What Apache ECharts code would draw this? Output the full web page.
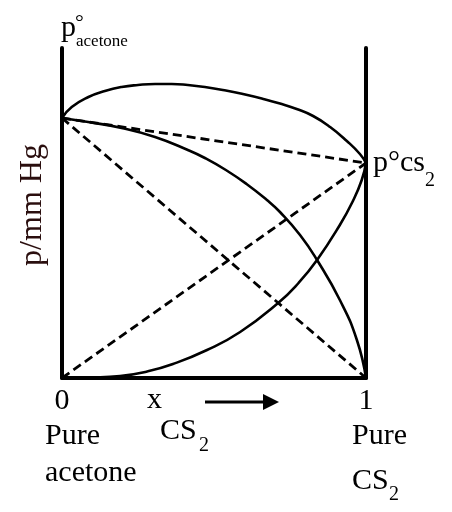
<!DOCTYPE html>
<html>
<head>
<meta charset="utf-8">
<script src="https://cdn.jsdelivr.net/npm/echarts@6/dist/echarts.min.js"></script>
<style>html,body{margin:0;padding:0;background:#fff}#c{width:452px;height:512px}</style>
</head>
<body>
<div id="c"></div>
<script>
// mole fraction of CS2 (x) and pressure (arbitrary units, 0..330)
var totalX = [0, 0.032, 0.087, 0.141, 0.196, 0.25, 0.306, 0.361, 0.414, 0.470, 0.539, 0.595, 0.657, 0.717, 0.772, 0.826, 0.882, 0.937, 0.980, 1];
var totalP = [260, 271, 281, 287, 291, 293, 294, 294, 293, 291, 287.5, 284, 279.5, 274.5, 269, 262, 251, 237, 224, 215];
var acetoneX = [0, 0.086, 0.196, 0.306, 0.414, 0.470, 0.539, 0.607, 0.674, 0.717, 0.783, 0.839, 0.914, 0.970, 1];
var acetoneP = [260, 256, 250, 241, 228, 220, 208, 194, 178, 166, 143, 118, 78, 38, 0];
var cs2X = [0, 0.092, 0.191, 0.280, 0.365, 0.477, 0.586, 0.711, 0.778, 0.839, 0.914, 0.957, 0.986, 1];
var cs2P = [0, 0.5, 2, 6.5, 14, 28, 46, 75, 95, 118, 153, 177, 198, 215];
var pAcetone = 260, pCS2 = 215;
var xTicks = ['0', '1'];

function pairs(xs, ys) { return xs.map(function (x, i) { return [x, ys[i]]; }); }

var FONT = '"Liberation Serif", "Times New Roman", serif';
function T(text, x, baseline, size, extra) {
  var el = {
    type: 'text', x: x, y: baseline - 0.305 * size,
    style: { text: text, font: size + 'px ' + FONT, fill: '#000', align: 'left', verticalAlign: 'middle' }
  };
  if (extra) for (var k in extra) el[k] = extra[k];
  return el;
}

var solid = { color: '#000', width: 2.6 };
var dashed = { color: '#000', width: 2.8, type: [9, 5] };

var chart = echarts.init(document.getElementById('c'));
chart.setOption({
  animation: false,
  backgroundColor: '#fff',
  grid: { left: 62, right: 86, top: 48, bottom: 134 },
  xAxis: {
    type: 'value', min: 0, max: 1, interval: 1,
    axisLine: { show: true, onZero: false, lineStyle: { color: '#000', width: 4 } },
    axisTick: { show: false }, splitLine: { show: false },
    axisLabel: {
      margin: 8, color: '#000', fontSize: 30, fontFamily: FONT,
      formatter: function (v) { return v === 0 ? xTicks[0] : (v === 1 ? xTicks[1] : ''); }
    }
  },
  yAxis: [
    { type: 'value', min: 0, max: 330, position: 'left',
      axisLine: { show: true, lineStyle: { color: '#000', width: 4 } },
      axisTick: { show: false }, axisLabel: { show: false }, splitLine: { show: false } },
    { type: 'value', min: 0, max: 330, position: 'right',
      axisLine: { show: true, lineStyle: { color: '#000', width: 4 } },
      axisTick: { show: false }, axisLabel: { show: false }, splitLine: { show: false } }
  ],
  series: [
    { type: 'line', data: pairs(totalX, totalP), smooth: 0.5, symbol: 'none', lineStyle: solid },
    { type: 'line', data: pairs(acetoneX, acetoneP), smooth: 0.5, symbol: 'none', lineStyle: solid },
    { type: 'line', data: pairs(cs2X, cs2P), smooth: 0.5, symbol: 'none', lineStyle: solid },
    { type: 'line', data: [[0, pAcetone], [1, pCS2]], symbol: 'none', lineStyle: dashed },
    { type: 'line', data: [[0, pAcetone], [1, 0]], symbol: 'none', lineStyle: dashed },
    { type: 'line', data: [[0, 0], [1, pCS2]], symbol: 'none', lineStyle: dashed }
  ],
  graphic: [
    T('p', 61, 37, 30),
    T('°', 75, 30, 22),
    T('acetone', 76, 47, 17),
    T('p°cs', 373, 172, 30),
    T('2', 425, 187, 20),
    { type: 'text', x: 33, y: 205, rotation: Math.PI / 2,
      style: { text: 'p/mm Hg', font: '32px ' + FONT, fill: '#2a0e0e', align: 'center', verticalAlign: 'middle' } },
    T('x', 147, 409, 30),
    { type: 'line', shape: { x1: 205, y1: 402, x2: 266, y2: 402 }, style: { stroke: '#000', lineWidth: 3 } },
    { type: 'polygon', shape: { points: [[263, 394], [279, 402], [263, 410]] }, style: { fill: '#000' } },
    T('CS', 160, 440, 30),
    T('2', 199, 452, 20),
    T('Pure', 45, 445, 30),
    T('acetone', 45, 482, 30),
    T('Pure', 352, 445, 30),
    T('CS', 352, 490, 30),
    T('2', 389, 501, 20)
  ]
});
</script>
</body>
</html>
